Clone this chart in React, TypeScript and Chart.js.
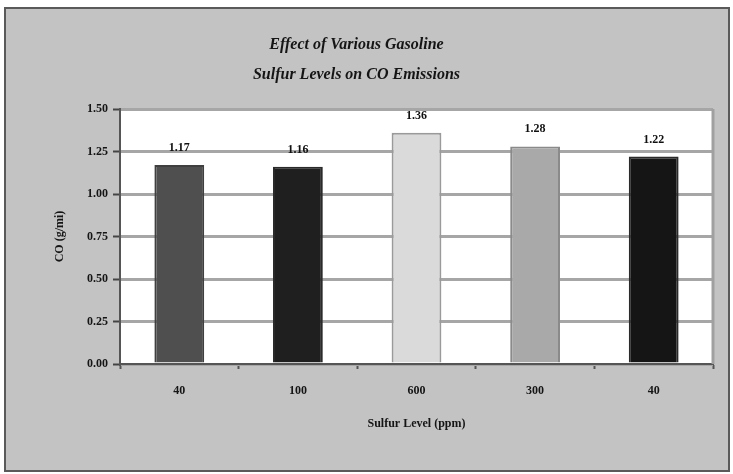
import React, { useEffect, useRef } from "react";
import { Chart, registerables } from "chart.js";

Chart.register(...registerables);

const categories = ["40", "100", "600", "300", "40"];
const coValues = [1.17, 1.16, 1.36, 1.28, 1.22];
const barColors = ["#4f4f4f", "#1f1f1f", "#dadada", "#a9a9a9", "#151515"];
const barBorders = ["#3f3f3f", "#2a2a2a", "#9a9a9a", "#8a8a8a", "#2a2a2a"];
const titleLines = ["Effect of Various Gasoline", "Sulfur Levels on CO Emissions"];
const yTitle = "CO (g/mi)";
const xTitle = "Sulfur Level (ppm)";

const FONT = "'Liberation Serif', 'Times New Roman', serif";

const framePlugin = {
  id: "frame",
  beforeDraw(chart: any) {
    const { ctx, width, height } = chart;
    ctx.save();
    ctx.fillStyle = "#ffffff";
    ctx.fillRect(0, 0, width, height);
    ctx.fillStyle = "#c3c3c3";
    ctx.fillRect(5, 8, width - 9, height - 11);
    ctx.strokeStyle = "#5a5a5a";
    ctx.lineWidth = 2;
    ctx.strokeRect(5, 8, width - 9, height - 11);
    const a = chart.chartArea;
    ctx.fillStyle = "#ffffff";
    ctx.fillRect(a.left, a.top, a.right - a.left, a.bottom - a.top);
    ctx.restore();
  },
  afterDraw(chart: any) {
    const { ctx } = chart;
    const a = chart.chartArea;
    ctx.save();
    ctx.strokeStyle = "#a0a0a0";
    ctx.lineWidth = 3;
    ctx.beginPath();
    ctx.moveTo(a.right, a.top);
    ctx.lineTo(a.right, a.bottom);
    ctx.stroke();
    // value labels
    ctx.fillStyle = "#111";
    ctx.font = `bold 12px ${FONT}`;
    ctx.textAlign = "center";
    ctx.textBaseline = "middle";
    const meta = chart.getDatasetMeta(0);
    meta.data.forEach((bar: any, i: number) => {
      ctx.fillText(coValues[i].toFixed(2), bar.x, bar.y - 17);
    });
    ctx.restore();
  },
};

export default function App() {
  const ref = useRef<HTMLCanvasElement | null>(null);
  useEffect(() => {
    if (!ref.current) return;
    const chart = new Chart(ref.current, {
      type: "bar",
      data: {
        labels: categories,
        datasets: [
          {
            data: coValues,
            backgroundColor: barColors,
            borderColor: barBorders,
            borderWidth: 2,
            barPercentage: 0.42,
            categoryPercentage: 1,
          },
        ],
      },
      options: {
        responsive: false,
        animation: false,
        layout: { padding: { left: 0, right: 20, top: 0, bottom: 0 } },
        plugins: {
          legend: { display: false },
          tooltip: { enabled: false },
          title: {
            display: true,
            text: titleLines,
            color: "#151515",
            font: { family: FONT, size: 16, style: "italic", weight: "bold", lineHeight: 1.875 },
            padding: { top: 30, bottom: 19 },
          },
        },
        scales: {
          x: {
            grid: {
              offset: true,
              drawOnChartArea: false,
              drawTicks: true,
              tickLength: 5,
              tickColor: "#555",
              tickWidth: 2,
            },
            border: { display: true, color: "#555", width: 2 },
            ticks: {
              color: "#151515",
              font: { family: FONT, size: 12, weight: "bold" },
              padding: 15,
            },
            title: {
              display: true,
              text: xTitle,
              color: "#151515",
              font: { family: FONT, size: 12, weight: "bold" },
              padding: { top: 0, bottom: 43 },
            },
            afterFit: (s: any) => {
              s.height = 110;
            },
          },
          y: {
            min: 0,
            max: 1.5,
            grid: {
              color: "#a6a6a6",
              lineWidth: 3,
              drawTicks: true,
              tickLength: 7,
              tickColor: "#444",
              tickWidth: 2,
            },
            border: { display: true, color: "#555", width: 2 },
            ticks: {
              stepSize: 0.25,
              color: "#151515",
              font: { family: FONT, size: 12, weight: "bold" },
              padding: 5,
              callback: (v: any) => Number(v).toFixed(2),
            },
            title: {
              display: true,
              text: yTitle,
              color: "#151515",
              font: { family: FONT, size: 12, weight: "bold" },
              padding: { top: 53, bottom: 0 },
            },
            afterFit: (s: any) => {
              s.width = 120;
            },
          },
        },
      },
      plugins: [framePlugin],
    });
    return () => chart.destroy();
  }, []);
  return (
    <div style={{ position: "fixed", left: 0, top: 0, width: 733, height: 474 }}>
      <canvas ref={ref} width={733} height={474} />
    </div>
  );
}
